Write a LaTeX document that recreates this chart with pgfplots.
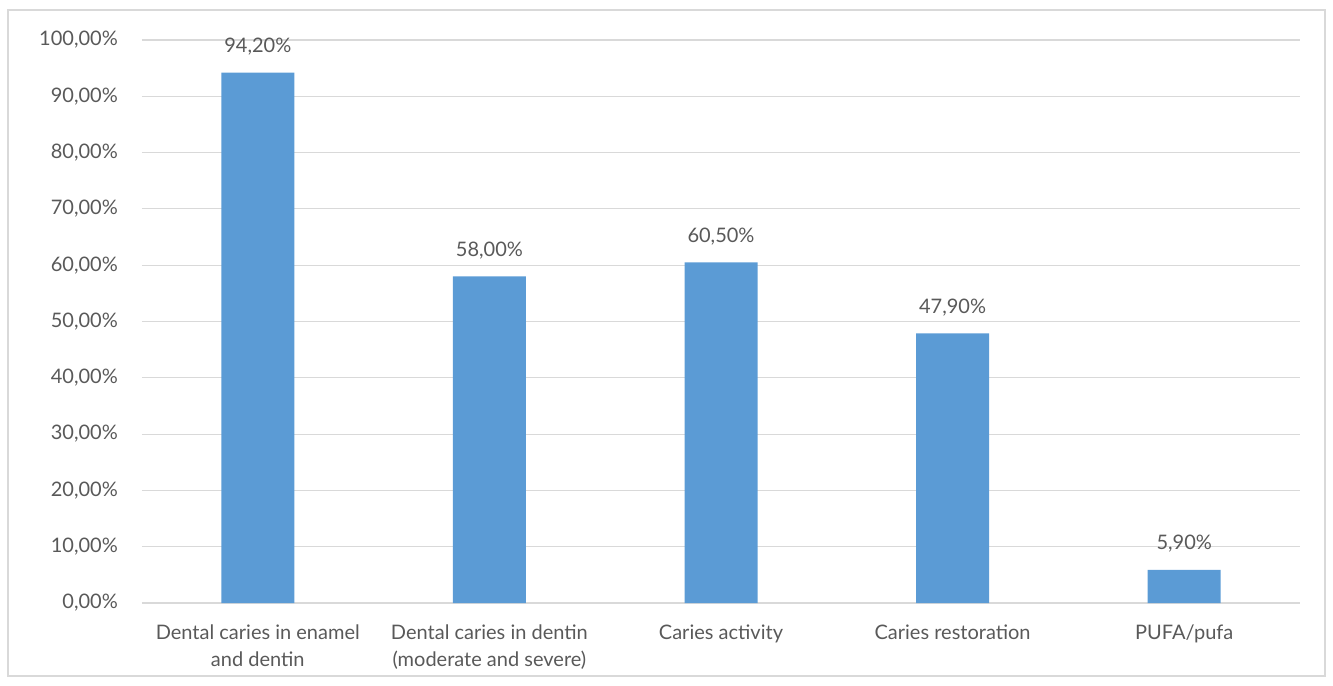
\documentclass[border=0pt]{standalone}
\usepackage{fontspec}
\setmainfont{Lato}
\usepackage{pgfplots}
\pgfplotsset{compat=1.18}
\definecolor{barblue}{HTML}{5B9BD5}
\definecolor{txtgray}{HTML}{595959}
\definecolor{gridgray}{HTML}{D9D9D9}
\begin{document}
\begin{tikzpicture}
\begin{axis}[
  scale only axis,
  width=1158bp, height=563bp,
  xmin=-0.5, xmax=4.5,
  ymin=0, ymax=100,
  ytick={0,10,...,100},
  xtick=data,
  xticklabels={{Dental caries in enamel\\and dentin},{Dental caries in dentin\\(moderate and severe)},{Caries activity},{Caries restoration},{PUFA/pufa}},
  xticklabel style={align=center, anchor=north, inner sep=0pt, yshift=-22bp, font=\fontsize{20bp}{27bp}\selectfont, text=txtgray},
  yticklabel style={anchor=east, inner sep=0pt, xshift=-24bp, font=\fontsize{20bp}{24bp}\selectfont, text=txtgray},
  yticklabel={\pgfmathprintnumber[fixed,fixed zerofill,precision=2,use comma,assume math mode=true]{\tick}\%},
  axis line style={draw=none},
  major tick length=0pt,
  ymajorgrids,
  grid style={gridgray, line width=1.1bp},
  ybar,
  bar width=73bp,
  clip=false,
  point meta=y,
  nodes near coords={\pgfmathprintnumber[fixed,fixed zerofill,precision=2,use comma,assume math mode=true]{\pgfplotspointmeta}\%},
  nodes near coords style={anchor=south, inner sep=0pt, yshift=17bp, font=\fontsize{20bp}{24bp}\selectfont, text=txtgray},
]
\addplot[fill=barblue, draw=none] coordinates {(0,94.2) (1,58.0) (2,60.5) (3,47.9) (4,5.9)};
\end{axis}
\draw[gridgray, line width=1.3bp] ([shift={(-134bp,-73bp)}]current axis.south west) rectangle ([shift={(1183bp,593bp)}]current axis.south west);
\path ([shift={(-142bp,-83bp)}]current axis.south west) rectangle ([shift={(1191bp,603bp)}]current axis.south west);
\end{tikzpicture}
\end{document}
